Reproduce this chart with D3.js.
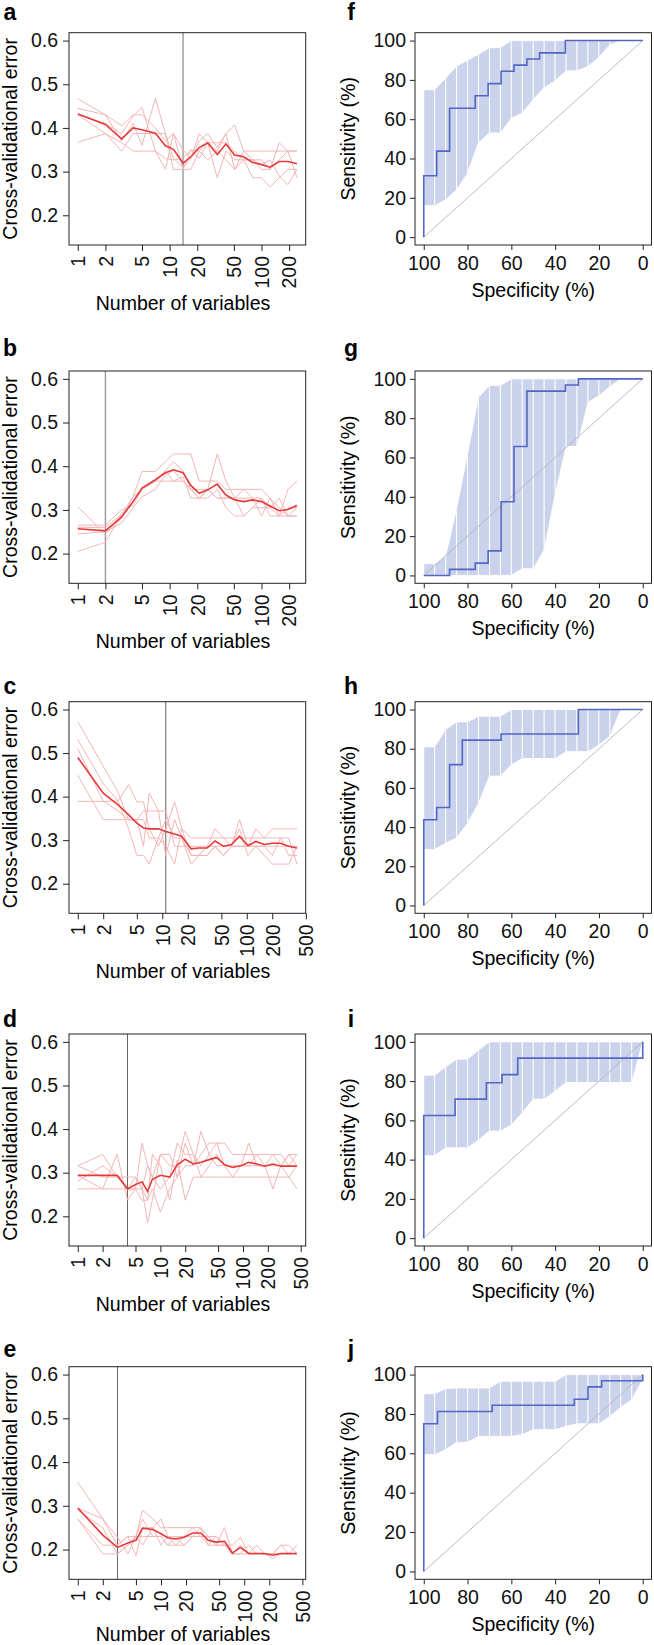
<!DOCTYPE html>
<html>
<head>
<meta charset="utf-8">
<script src="https://cdn.jsdelivr.net/npm/d3@7"></script>
<style>
  body { margin: 0; background: #fff; }
  svg { display: block; font-family: "Liberation Sans", Arial, Helvetica, sans-serif; }
</style>
</head>
<body>
<svg id="fig" width="654" height="1645"></svg>
<script>
// ---- ticks ----
const yTicksErr = [0.2, 0.3, 0.4, 0.5, 0.6];
const xTicksShort = [1, 2, 5, 10, 20, 50, 100, 200];
const xTicksLong = [1, 2, 5, 10, 20, 50, 100, 200, 500];
const rocTicks = [0, 20, 40, 60, 80, 100];

// ---- cross-validation panels (a-e) ----
const nVarsAB = [1, 2, 3, 4, 5, 7, 9, 11, 14, 17, 21, 26, 33, 41, 51, 64, 80, 100, 124, 156, 194, 243];
const nVarsC = [1, 2, 3, 4, 5, 6, 7, 9, 11, 14, 17, 22, 27, 34, 42, 53, 66, 82, 103, 128, 161, 201, 251, 314, 392];
const nVarsD = [1, 2, 3, 4, 5, 6, 7, 8, 10, 13, 16, 20, 25, 31, 39, 48, 60, 75, 94, 118, 147, 184, 230, 288, 360, 450];
const nVarsE = [1, 2, 3, 4, 5, 6, 8, 10, 12, 15, 19, 24, 30, 37, 46, 58, 72, 90, 113, 141, 176, 220, 275, 344, 430];

const errMeanA = [0.432, 0.408, 0.375, 0.400, 0.396, 0.388, 0.359, 0.351, 0.319, 0.334, 0.355, 0.366, 0.339, 0.363, 0.338, 0.334, 0.321, 0.316, 0.310, 0.323, 0.323, 0.318];
const errRunsA = [
  [0.467, 0.430, 0.405, 0.430, 0.430, 0.400, 0.370, 0.387, 0.349, 0.330, 0.370, 0.387, 0.355, 0.387, 0.407, 0.347, 0.347, 0.347, 0.347, 0.347, 0.347, 0.347],
  [0.445, 0.430, 0.370, 0.410, 0.360, 0.468, 0.387, 0.330, 0.310, 0.330, 0.387, 0.366, 0.366, 0.366, 0.347, 0.327, 0.327, 0.327, 0.305, 0.327, 0.347, 0.347],
  [0.432, 0.410, 0.387, 0.427, 0.447, 0.347, 0.330, 0.327, 0.330, 0.350, 0.330, 0.366, 0.286, 0.347, 0.327, 0.327, 0.327, 0.305, 0.305, 0.366, 0.347, 0.286],
  [0.430, 0.387, 0.347, 0.387, 0.387, 0.387, 0.387, 0.305, 0.305, 0.305, 0.347, 0.366, 0.347, 0.387, 0.305, 0.327, 0.286, 0.286, 0.265, 0.286, 0.305, 0.305],
  [0.367, 0.387, 0.366, 0.347, 0.347, 0.347, 0.305, 0.387, 0.305, 0.350, 0.347, 0.327, 0.347, 0.327, 0.305, 0.347, 0.327, 0.316, 0.327, 0.290, 0.270, 0.305]
];

const errMeanB = [0.257, 0.252, 0.284, 0.319, 0.350, 0.369, 0.385, 0.392, 0.385, 0.356, 0.338, 0.346, 0.359, 0.334, 0.323, 0.319, 0.323, 0.319, 0.309, 0.298, 0.301, 0.310];
const errRunsB = [
  [0.307, 0.245, 0.280, 0.330, 0.388, 0.388, 0.410, 0.428, 0.428, 0.428, 0.366, 0.366, 0.366, 0.347, 0.347, 0.347, 0.347, 0.347, 0.327, 0.305, 0.286, 0.286],
  [0.265, 0.265, 0.300, 0.310, 0.347, 0.366, 0.390, 0.410, 0.390, 0.347, 0.327, 0.347, 0.428, 0.366, 0.327, 0.286, 0.305, 0.327, 0.305, 0.286, 0.347, 0.366],
  [0.260, 0.260, 0.290, 0.330, 0.347, 0.366, 0.366, 0.366, 0.366, 0.347, 0.327, 0.327, 0.347, 0.305, 0.286, 0.286, 0.305, 0.305, 0.305, 0.327, 0.286, 0.305],
  [0.245, 0.250, 0.270, 0.305, 0.330, 0.347, 0.380, 0.390, 0.366, 0.347, 0.347, 0.347, 0.327, 0.327, 0.327, 0.327, 0.327, 0.327, 0.286, 0.286, 0.305, 0.305],
  [0.205, 0.226, 0.290, 0.320, 0.347, 0.366, 0.390, 0.366, 0.376, 0.327, 0.327, 0.347, 0.327, 0.327, 0.327, 0.347, 0.327, 0.286, 0.327, 0.286, 0.286, 0.286]
];

const errMeanC = [0.490, 0.408, 0.381, 0.358, 0.339, 0.328, 0.326, 0.326, 0.320, 0.314, 0.309, 0.280, 0.282, 0.282, 0.298, 0.286, 0.290, 0.309, 0.287, 0.297, 0.290, 0.293, 0.293, 0.286, 0.282];
const errRunsC = [
  [0.572, 0.470, 0.410, 0.347, 0.347, 0.347, 0.305, 0.305, 0.347, 0.305, 0.305, 0.265, 0.265, 0.286, 0.326, 0.305, 0.286, 0.347, 0.286, 0.326, 0.305, 0.326, 0.326, 0.326, 0.326],
  [0.531, 0.430, 0.390, 0.428, 0.388, 0.388, 0.326, 0.286, 0.326, 0.388, 0.326, 0.305, 0.305, 0.305, 0.305, 0.305, 0.305, 0.305, 0.305, 0.305, 0.305, 0.305, 0.305, 0.265, 0.265],
  [0.510, 0.390, 0.367, 0.347, 0.347, 0.286, 0.408, 0.367, 0.367, 0.286, 0.286, 0.286, 0.286, 0.286, 0.286, 0.286, 0.286, 0.286, 0.286, 0.286, 0.286, 0.286, 0.286, 0.286, 0.286],
  [0.449, 0.347, 0.347, 0.347, 0.347, 0.367, 0.367, 0.367, 0.265, 0.347, 0.305, 0.245, 0.265, 0.265, 0.286, 0.265, 0.286, 0.326, 0.265, 0.286, 0.286, 0.265, 0.305, 0.305, 0.245],
  [0.389, 0.389, 0.390, 0.326, 0.265, 0.265, 0.245, 0.305, 0.286, 0.245, 0.326, 0.265, 0.265, 0.265, 0.286, 0.265, 0.286, 0.286, 0.286, 0.286, 0.265, 0.245, 0.245, 0.245, 0.286]
];

const errMeanD = [0.294, 0.294, 0.294, 0.263, 0.273, 0.279, 0.257, 0.285, 0.294, 0.290, 0.318, 0.331, 0.320, 0.324, 0.330, 0.335, 0.318, 0.312, 0.316, 0.324, 0.320, 0.315, 0.320, 0.315, 0.315, 0.315];
const errRunsD = [
  [0.316, 0.342, 0.290, 0.263, 0.263, 0.368, 0.316, 0.290, 0.342, 0.342, 0.290, 0.368, 0.316, 0.395, 0.342, 0.368, 0.368, 0.342, 0.342, 0.342, 0.342, 0.342, 0.342, 0.342, 0.316, 0.342],
  [0.294, 0.263, 0.342, 0.237, 0.263, 0.263, 0.316, 0.290, 0.263, 0.290, 0.368, 0.342, 0.342, 0.316, 0.342, 0.316, 0.316, 0.316, 0.316, 0.316, 0.342, 0.316, 0.316, 0.316, 0.342, 0.316],
  [0.263, 0.263, 0.263, 0.263, 0.290, 0.263, 0.185, 0.237, 0.342, 0.316, 0.316, 0.395, 0.342, 0.290, 0.290, 0.290, 0.290, 0.290, 0.290, 0.290, 0.290, 0.290, 0.290, 0.290, 0.290, 0.263],
  [0.316, 0.290, 0.290, 0.290, 0.290, 0.263, 0.237, 0.263, 0.210, 0.263, 0.290, 0.316, 0.316, 0.342, 0.368, 0.368, 0.316, 0.316, 0.316, 0.368, 0.316, 0.316, 0.263, 0.316, 0.342, 0.342],
  [0.280, 0.316, 0.290, 0.263, 0.263, 0.237, 0.237, 0.342, 0.316, 0.237, 0.329, 0.237, 0.290, 0.290, 0.316, 0.342, 0.316, 0.290, 0.316, 0.316, 0.316, 0.316, 0.342, 0.316, 0.290, 0.316]
];

const errMeanE = [0.295, 0.233, 0.205, 0.215, 0.221, 0.249, 0.246, 0.236, 0.227, 0.224, 0.228, 0.238, 0.238, 0.221, 0.217, 0.219, 0.192, 0.205, 0.191, 0.191, 0.191, 0.187, 0.191, 0.191, 0.191];
const errRunsE = [
  [0.354, 0.270, 0.228, 0.190, 0.230, 0.290, 0.270, 0.250, 0.250, 0.250, 0.250, 0.250, 0.230, 0.230, 0.230, 0.210, 0.210, 0.228, 0.190, 0.210, 0.190, 0.190, 0.210, 0.210, 0.190],
  [0.295, 0.270, 0.210, 0.230, 0.186, 0.250, 0.250, 0.270, 0.230, 0.230, 0.230, 0.250, 0.250, 0.210, 0.210, 0.250, 0.190, 0.210, 0.190, 0.190, 0.190, 0.190, 0.190, 0.190, 0.210],
  [0.290, 0.250, 0.190, 0.210, 0.230, 0.230, 0.230, 0.230, 0.210, 0.210, 0.230, 0.230, 0.250, 0.230, 0.210, 0.210, 0.190, 0.190, 0.210, 0.190, 0.190, 0.190, 0.190, 0.190, 0.190],
  [0.270, 0.210, 0.210, 0.230, 0.230, 0.210, 0.250, 0.210, 0.230, 0.210, 0.210, 0.230, 0.230, 0.210, 0.230, 0.210, 0.190, 0.210, 0.190, 0.190, 0.190, 0.190, 0.210, 0.190, 0.190],
  [0.270, 0.190, 0.190, 0.210, 0.230, 0.270, 0.230, 0.230, 0.210, 0.230, 0.210, 0.230, 0.230, 0.230, 0.210, 0.210, 0.190, 0.190, 0.190, 0.190, 0.190, 0.180, 0.190, 0.190, 0.190]
];

// selected number of variables (vertical line)
const bestVars = [14, 2, 11, 4, 3];

// ---- ROC panels (f-j) ----
const specGrid = [100, 95, 90, 85, 80, 75, 70, 65, 60, 55, 50, 45, 40, 35, 30, 25, 20, 15, 10, 5, 0];

const ciUpperF = [75, 75, 81, 87, 90, 93, 96.4, 96.4, 100, 100, 100, 100, 100, 100, 100, 100, 100, 100, 100, 100, 100];
const ciLowerF = [16, 16, 19, 24, 32.5, 48, 53, 53, 60.5, 63, 70, 76, 79.5, 84.6, 84.6, 86.8, 91.5, 97.8, 100, 100, 100];
const rocSpecF = [100, 100, 94.1, 94.1, 88.2, 88.2, 76.5, 76.5, 70.6, 70.6, 64.7, 64.7, 58.8, 58.8, 52.9, 52.9, 47.1, 47.1, 35.3, 35.3, 0];
const rocSensF = [0, 31.25, 31.25, 43.75, 43.75, 65.6, 65.6, 71.9, 71.9, 78.1, 78.1, 84.4, 84.4, 87.5, 87.5, 90.6, 90.6, 93.75, 93.75, 100, 100];

const ciUpperG = [6, 6, 10, 34, 62, 90.7, 96.6, 96.6, 100, 100, 100, 100, 100, 100, 100, 100, 100, 100, 100, 100, 100];
const ciLowerG = [0, 0, 0, 0, 0, 0, 0, 0, 0, 3.4, 3.4, 13, 41, 65.6, 65.6, 88, 91.4, 96, 100, 100, 100];
const rocSpecG = [100, 88.2, 88.2, 76.5, 76.5, 70.6, 70.6, 64.7, 64.7, 58.8, 58.8, 52.9, 52.9, 35.3, 35.3, 29.4, 29.4, 0];
const rocSensG = [0, 0, 3.1, 3.1, 6.25, 6.25, 12.5, 12.5, 37.5, 37.5, 65.6, 65.6, 93.75, 93.75, 96.9, 96.9, 100, 100];

const ciUpperH = [81, 81, 90, 93.7, 93.7, 96.6, 96.6, 96.6, 100, 100, 100, 100, 100, 100, 100, 100, 100, 100, 100, 100, 100];
const ciLowerH = [28.5, 28.5, 31.9, 34.4, 42, 52, 66, 66, 71.7, 75, 75, 75, 75, 78.5, 78.5, 78.5, 81.9, 86.4, 100, 100, 100];
const rocSpecH = [100, 100, 94.1, 94.1, 88.2, 88.2, 82.4, 82.4, 64.7, 64.7, 29.4, 29.4, 0];
const rocSensH = [0, 43.75, 43.75, 50, 50, 71.9, 71.9, 84.4, 84.4, 87.5, 87.5, 100, 100];

const ciUpperI = [83, 83, 87.3, 91.2, 91.2, 95.8, 100, 100, 100, 100, 100, 100, 100, 100, 100, 100, 100, 100, 100, 100, 100];
const ciLowerI = [42, 42, 46, 46, 46, 50, 54.6, 54.6, 57.6, 63.9, 70.8, 70.8, 74.9, 79.3, 79.3, 79.3, 79.3, 79.3, 79.3, 79.3, 100];
const rocSpecI = [100, 100, 85.7, 85.7, 71.4, 71.4, 64.3, 64.3, 57.1, 57.1, 0, 0];
const rocSensI = [0, 62.5, 62.5, 70.8, 70.8, 79.2, 79.2, 83.3, 83.3, 91.7, 91.7, 100];

const ciUpperJ = [90.3, 90.3, 92.9, 93.2, 93.2, 93.2, 93.2, 96.6, 96.6, 96.6, 96.6, 96.6, 96.6, 100, 100, 100, 100, 100, 100, 100, 100];
const ciLowerJ = [59.3, 59.3, 61.9, 65.6, 65.6, 68.6, 68.6, 68.6, 68.6, 69.5, 72, 72, 72, 73.7, 75, 75, 75, 78.8, 83.4, 87.3, 97.5];
const rocSpecJ = [100, 100, 93.75, 93.75, 68.75, 68.75, 31.25, 31.25, 25, 25, 18.75, 18.75, 0, 0];
const rocSensJ = [0, 75, 75, 81.25, 81.25, 84.4, 84.4, 87.5, 87.5, 93.75, 93.75, 96.9, 96.9, 100];

const chance = [[100, 0], [0, 100]];

// ---- layout ----
const rows = [
  {top: 32.7, bottom: 245, labY: 20},
  {top: 371, bottom: 583.3, labY: 356},
  {top: 701.7, bottom: 913.3, labY: 694},
  {top: 1034, bottom: 1246, labY: 1026.7},
  {top: 1366.7, bottom: 1579.3, labY: 1356.7}
];
const leftBox = [69, 305.7];
const rightBox = [415, 651.5];
const tickFont = "19.5px";
const titleFont = "19.5px";

const svg = d3.select("#fig");

function styleAxis(g) {
  g.select(".domain").remove();
  g.selectAll(".tick line").attr("stroke", "#222");
  g.selectAll(".tick text").attr("fill", "#111").style("font-size", tickFont);
}

function panelLetter(x, y, t) {
  svg.append("text")
    .attr("x", x).attr("y", y)
    .attr("text-anchor", "middle")
    .style("font-size", "23px").style("font-weight", "bold")
    .text(t);
}

function errPanel(r, letter, nVars, mean, runs, xTicks, best, vCol, vWidth) {
  const row = rows[r];
  const lo = Math.log10(d3.min(nVars)), hi = Math.log10(d3.max(nVars));
  const pad = (hi - lo) * 0.04;
  const x = d3.scaleLog()
    .domain([Math.pow(10, lo - pad), Math.pow(10, hi + pad)])
    .range(leftBox);
  const y = d3.scaleLinear()
    .domain([0.132, 0.618])
    .range([row.bottom, row.top]);

  const g = svg.append("g");
  const line = d3.line().x((d, i) => x(nVars[i])).y(d => y(d));

  g.append("line")
    .attr("x1", x(best)).attr("x2", x(best))
    .attr("y1", row.top).attr("y2", row.bottom)
    .attr("stroke", vCol).attr("stroke-width", vWidth);

  runs.forEach(run => {
    g.append("path")
      .attr("d", line(run))
      .attr("fill", "none")
      .attr("stroke", "#f3b6b6")
      .attr("stroke-width", 1);
  });

  g.append("path")
    .attr("d", line(mean))
    .attr("fill", "none")
    .attr("stroke", "#e53a3a")
    .attr("stroke-width", 1.6);

  g.append("rect")
    .attr("x", leftBox[0]).attr("y", row.top)
    .attr("width", leftBox[1] - leftBox[0]).attr("height", row.bottom - row.top)
    .attr("fill", "none").attr("stroke", "#222").attr("stroke-width", 1);

  const yAxis = g.append("g")
    .attr("transform", "translate(" + leftBox[0] + ",0)")
    .call(d3.axisLeft(y).tickValues(yTicksErr).tickSize(6).tickPadding(5).tickFormat(d3.format(".1f")));
  styleAxis(yAxis);

  const xAxis = g.append("g")
    .attr("transform", "translate(0," + row.bottom + ")")
    .call(d3.axisBottom(x).tickValues(xTicks).tickSize(6).tickFormat(d3.format("d")));
  styleAxis(xAxis);
  xAxis.selectAll(".tick text")
    .attr("transform", "rotate(-90)")
    .attr("text-anchor", "end")
    .attr("x", -11).attr("y", 0).attr("dy", "0.35em");

  g.append("text")
    .attr("x", 183).attr("y", Math.min(row.bottom + 65, 1641))
    .attr("text-anchor", "middle").style("font-size", titleFont)
    .text("Number of variables");

  g.append("text")
    .attr("transform", "translate(16.7," + ((row.top + row.bottom) / 2) + ") rotate(-90)")
    .attr("text-anchor", "middle").style("font-size", titleFont)
    .text("Cross-validational error");

  panelLetter(10, row.labY, letter);
}

function rocPanel(r, letter, ciUp, ciLo, spec, sens) {
  const row = rows[r];
  const x = d3.scaleLinear().domain([104, -4]).range(rightBox);
  const y = d3.scaleLinear().domain([-4, 104]).range([row.bottom, row.top]);
  const g = svg.append("g");

  // confidence band, one slab per specificity step
  for (let i = 0; i < specGrid.length - 1; i++) {
    if (ciUp[i] - ciLo[i] <= 0 && ciUp[i + 1] - ciLo[i + 1] <= 0) continue;
    const pts = [
      [x(specGrid[i]), y(ciLo[i])],
      [x(specGrid[i + 1]), y(ciLo[i + 1])],
      [x(specGrid[i + 1]), y(ciUp[i + 1])],
      [x(specGrid[i]), y(ciUp[i])]
    ];
    g.append("polygon")
      .attr("points", pts.map(p => p.join(",")).join(" "))
      .attr("fill", "#cbd2ec")
      .attr("stroke", "#ffffff")
      .attr("stroke-width", 0.9);
  }

  g.append("path")
    .attr("d", d3.line().x(d => x(d[0])).y(d => y(d[1]))(chance))
    .attr("stroke", "#b5b5b5").attr("stroke-width", 0.9).attr("fill", "none");

  g.append("path")
    .attr("d", d3.line().x((d, i) => x(spec[i])).y(d => y(d))(sens))
    .attr("fill", "none")
    .attr("stroke", "#5167c4")
    .attr("stroke-width", 1.6);

  g.append("rect")
    .attr("x", rightBox[0]).attr("y", row.top)
    .attr("width", rightBox[1] - rightBox[0]).attr("height", row.bottom - row.top)
    .attr("fill", "none").attr("stroke", "#222").attr("stroke-width", 1);

  const yAxis = g.append("g")
    .attr("transform", "translate(" + rightBox[0] + ",0)")
    .call(d3.axisLeft(y).tickValues(rocTicks).tickSize(5).tickPadding(4));
  styleAxis(yAxis);

  const xAxis = g.append("g")
    .attr("transform", "translate(0," + row.bottom + ")")
    .call(d3.axisBottom(x).tickValues(rocTicks.slice().reverse()).tickSize(5));
  styleAxis(xAxis);
  xAxis.selectAll(".tick text").attr("y", 25).attr("dy", 0);

  g.append("text")
    .attr("x", (rightBox[0] + rightBox[1]) / 2).attr("y", row.bottom + 52)
    .attr("text-anchor", "middle").style("font-size", titleFont)
    .text("Specificity (%)");

  g.append("text")
    .attr("transform", "translate(355," + ((row.top + row.bottom) / 2) + ") rotate(-90)")
    .attr("text-anchor", "middle").style("font-size", titleFont)
    .text("Sensitivity (%)");

  panelLetter(351, row.labY, letter);
}

errPanel(0, "a", nVarsAB, errMeanA, errRunsA, xTicksShort, bestVars[0], "#999", 1.4);
errPanel(1, "b", nVarsAB, errMeanB, errRunsB, xTicksShort, bestVars[1], "#999", 1.4);
errPanel(2, "c", nVarsC, errMeanC, errRunsC, xTicksLong, bestVars[2], "#666", 1);
errPanel(3, "d", nVarsD, errMeanD, errRunsD, xTicksLong, bestVars[3], "#666", 1);
errPanel(4, "e", nVarsE, errMeanE, errRunsE, xTicksLong, bestVars[4], "#666", 1);

rocPanel(0, "f", ciUpperF, ciLowerF, rocSpecF, rocSensF);
rocPanel(1, "g", ciUpperG, ciLowerG, rocSpecG, rocSensG);
rocPanel(2, "h", ciUpperH, ciLowerH, rocSpecH, rocSensH);
rocPanel(3, "i", ciUpperI, ciLowerI, rocSpecI, rocSensI);
rocPanel(4, "j", ciUpperJ, ciLowerJ, rocSpecJ, rocSensJ);
</script>
</body>
</html>
